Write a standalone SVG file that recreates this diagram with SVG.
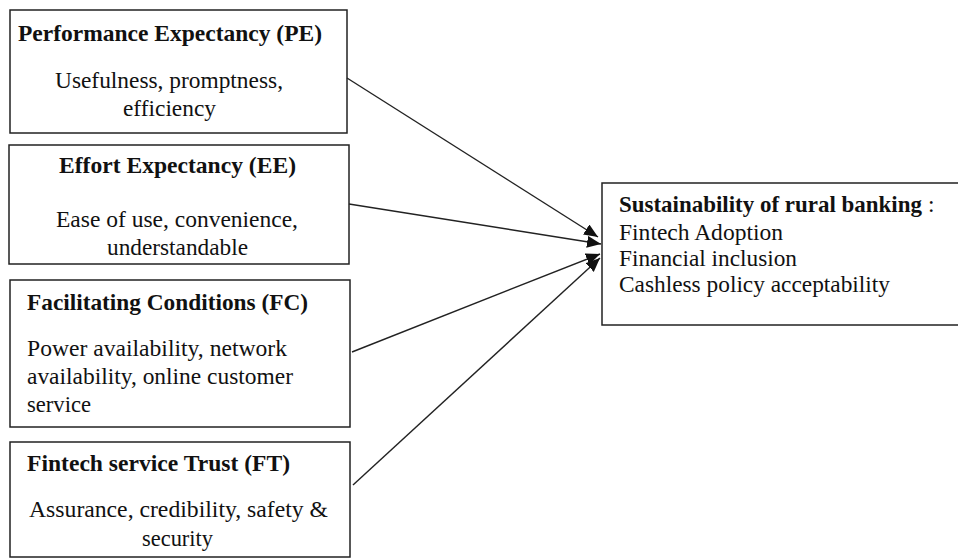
<svg xmlns="http://www.w3.org/2000/svg" width="958" height="560" viewBox="0 0 958 560">
<style>
.box{fill:#fff;stroke:#222;stroke-width:1.5}
text{fill:#111;font-family:"Liberation Serif","Times New Roman",serif;font-size:23.5px}
.t{font-weight:bold}
.con{stroke:#222;stroke-width:1.4;fill:none}
</style>
<defs>
<marker id="ah" markerUnits="userSpaceOnUse" markerWidth="16" markerHeight="13" refX="14" refY="6" orient="auto">
<path d="M0,0 L14,6 L0,12 Z" fill="#111"/>
</marker>
</defs>
<rect width="958" height="560" fill="#fff"/>
<g id="PE">
<rect class="box" x="10" y="10" width="337" height="123"/>
<text class="t" x="18" y="41" textLength="304" lengthAdjust="spacingAndGlyphs">Performance Expectancy (PE)</text>
<text x="55" y="88" textLength="228" lengthAdjust="spacingAndGlyphs">Usefulness, promptness,</text>
<text x="123" y="116" textLength="93" lengthAdjust="spacingAndGlyphs">efficiency</text>
</g>
<g id="EE">
<rect class="box" x="9" y="145" width="340" height="119"/>
<text class="t" x="59" y="173" textLength="237" lengthAdjust="spacingAndGlyphs">Effort Expectancy (EE)</text>
<text x="56" y="227" textLength="242" lengthAdjust="spacingAndGlyphs">Ease of use, convenience,</text>
<text x="107" y="255" textLength="141" lengthAdjust="spacingAndGlyphs">understandable</text>
</g>
<g id="FC">
<rect class="box" x="10" y="280" width="340" height="147"/>
<text class="t" x="27" y="310" textLength="281" lengthAdjust="spacingAndGlyphs">Facilitating Conditions (FC)</text>
<text x="27" y="356" textLength="260" lengthAdjust="spacingAndGlyphs">Power availability, network</text>
<text x="27" y="384" textLength="266" lengthAdjust="spacingAndGlyphs">availability, online customer</text>
<text x="27" y="412" textLength="64" lengthAdjust="spacingAndGlyphs">service</text>
</g>
<g id="FT">
<rect class="box" x="10" y="442" width="340" height="115"/>
<text class="t" x="27" y="471" textLength="263" lengthAdjust="spacingAndGlyphs">Fintech service Trust (FT)</text>
<text x="29" y="517" textLength="299" lengthAdjust="spacingAndGlyphs">Assurance, credibility, safety &amp;</text>
<text x="142" y="546" textLength="71" lengthAdjust="spacingAndGlyphs">security</text>
</g>
<g id="SRB">
<rect class="box" x="602" y="183" width="360" height="142"/>
<text class="t" x="619" y="212" textLength="303" lengthAdjust="spacingAndGlyphs">Sustainability of rural banking</text>
<text x="928" y="212">:</text>
<text x="619" y="240" textLength="164" lengthAdjust="spacingAndGlyphs">Fintech Adoption</text>
<text x="619" y="266" textLength="178" lengthAdjust="spacingAndGlyphs">Financial inclusion</text>
<text x="619" y="292" textLength="271" lengthAdjust="spacingAndGlyphs">Cashless policy acceptability</text>
</g>
<g id="connectors">
<line class="con" x1="347" y1="78" x2="598" y2="237" marker-end="url(#ah)"/>
<line class="con" x1="349" y1="204" x2="601" y2="244" marker-end="url(#ah)"/>
<line class="con" x1="352" y1="352" x2="600" y2="254" marker-end="url(#ah)"/>
<line class="con" x1="353" y1="485" x2="600" y2="258" marker-end="url(#ah)"/>
</g>
</svg>
